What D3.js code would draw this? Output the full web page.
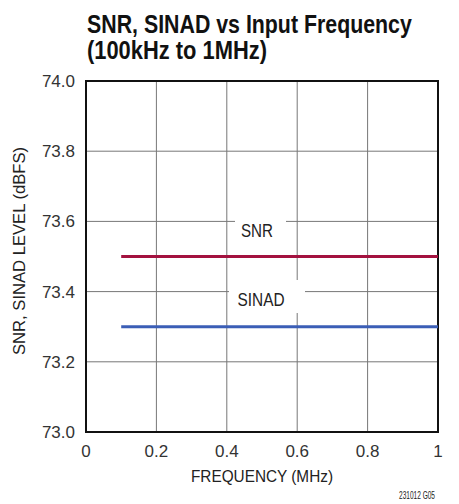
<!DOCTYPE html>
<html><head><meta charset="utf-8">
<script src="https://cdn.jsdelivr.net/npm/d3@7"></script>
<style>body{margin:0;background:#fff}text{font-family:"Liberation Sans Narrow","Liberation Sans",Arial,sans-serif}</style>
</head><body><svg id="c" width="459" height="504"></svg>
<script>
const xTicks = [0, 0.2, 0.4, 0.6, 0.8, 1];
const xTickLabels = ["0", "0.2", "0.4", "0.6", "0.8", "1"];
const yTicks = [73.0, 73.2, 73.4, 73.6, 73.8, 74.0];
const yTickLabels = ["73.0", "73.2", "73.4", "73.6", "73.8", "74.0"];
const freq = [0.1, 1.0];
const snr = [73.5, 73.5];
const sinad = [73.3, 73.3];
const seriesNames = ["SNR", "SINAD"];

const svg = d3.select("#c");
const L = 86, R = 438, T = 81, B = 432;
const x = d3.scaleLinear().domain([0, 1]).range([L, R]);
const y = d3.scaleLinear().domain([73, 74]).range([B, T]);

function fit(sel, w) {
  sel.each(function () {
    const n = this.getComputedTextLength();
    if (n > w) d3.select(this).attr("textLength", w).attr("lengthAdjust", "spacingAndGlyphs");
  });
  return sel;
}
// horizontal squeeze through a transform (keeps bounding box honest)
function squeeze(px, py, txt, size, w, weight, anchorMid) {
  const t = svg.append("text").attr("x", 0).attr("y", 0).attr("font-size", size)
    .attr("font-weight", weight || "normal").attr("fill", "#111").text(txt);
  if (anchorMid) t.attr("text-anchor", "middle");
  const n = t.node().getComputedTextLength();
  const s = Math.min(1, w / n);
  t.attr("transform", `translate(${px},${py}) scale(${s},1)`);
  return t;
}

// title
squeeze(87, 33, "SNR, SINAD vs Input Frequency", 25, 325, "bold");
squeeze(87, 59, "(100kHz to 1MHz)", 25, 180, "bold");

// grid
const g = svg.append("g");
g.selectAll(".vx").data(xTicks.slice(1, -1)).join("line")
  .attr("x1", d => x(d)).attr("x2", d => x(d)).attr("y1", T).attr("y2", B)
  .attr("stroke", "#777").attr("stroke-width", 1);
g.selectAll(".hy").data(yTicks.slice(1, -1)).join("line")
  .attr("x1", L).attr("x2", R).attr("y1", d => y(d)).attr("y2", d => y(d))
  .attr("stroke", "#777").attr("stroke-width", 1);

// label masks
svg.append("rect").attr("x", 235).attr("y", 212).attr("width", 51).attr("height", 32).attr("fill", "#fff");
svg.append("rect").attr("x", 229).attr("y", 280).attr("width", 76).attr("height", 33).attr("fill", "#fff");

// border
svg.append("rect").attr("x", L).attr("y", T).attr("width", R - L).attr("height", B - T)
  .attr("fill", "none").attr("stroke", "#111").attr("stroke-width", 2);

// series
const line = d3.line().x(d => x(d[0])).y(d => y(d[1]));
svg.append("path").datum(freq.map((f, i) => [f, snr[i]])).attr("d", line)
  .attr("stroke", "#a3123f").attr("stroke-width", 3).attr("fill", "none");
svg.append("path").datum(freq.map((f, i) => [f, sinad[i]])).attr("d", line)
  .attr("stroke", "#3b5eb6").attr("stroke-width", 3).attr("fill", "none");

fit(svg.append("text").attr("x", 257).attr("y", 237).attr("text-anchor", "middle").attr("font-size", 18).attr("fill", "#222").text(seriesNames[0]), 32);
fit(svg.append("text").attr("x", 261).attr("y", 306).attr("text-anchor", "middle").attr("font-size", 18).attr("fill", "#222").text(seriesNames[1]), 47);

// y tick labels
svg.selectAll(".yl").data(yTicks).join("text")
  .attr("x", 75).attr("y", d => y(d) + 6).attr("text-anchor", "end").attr("font-size", 17).attr("fill", "#333")
  .text((d, i) => yTickLabels[i]);
// x tick labels
svg.selectAll(".xl").data(xTicks).join("text")
  .attr("x", d => x(d)).attr("y", 457).attr("text-anchor", "middle").attr("font-size", 17).attr("fill", "#333")
  .text((d, i) => xTickLabels[i]);

fit(svg.append("text").attr("x", 262).attr("y", 482).attr("text-anchor", "middle").attr("font-size", 17).attr("fill", "#222").text("FREQUENCY (MHz)"), 142);
fit(svg.append("text").attr("transform", "translate(25,251) rotate(-90)").attr("text-anchor", "middle").attr("font-size", 17).attr("fill", "#222").text("SNR, SINAD LEVEL (dBFS)"), 208);
fit(svg.append("text").attr("x", 435).attr("y", 499).attr("text-anchor", "end").attr("font-size", 11).attr("fill", "#222").text("231012 G05"), 36);
</script></body></html>
